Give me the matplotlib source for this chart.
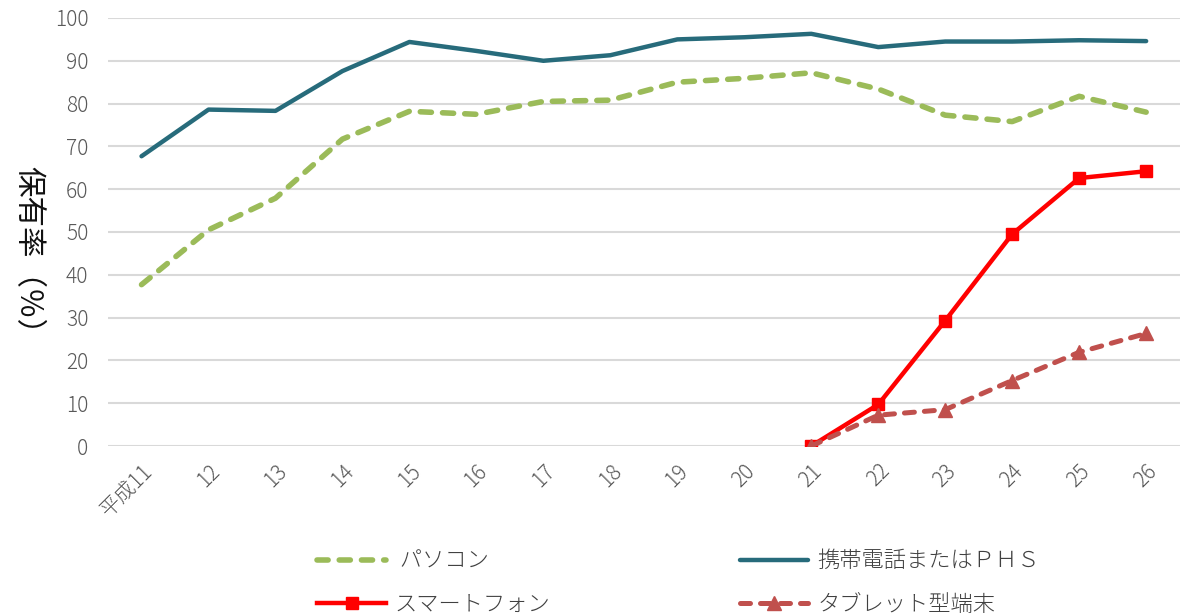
import matplotlib
matplotlib.use("Agg")
import matplotlib.pyplot as plt

plt.rcParams['font.family'] = ['Noto Sans CJK JP', 'DejaVu Sans']
plt.rcParams['font.weight'] = 'light'

years = ["平成11", "12", "13", "14", "15", "16", "17", "18",
         "19", "20", "21", "22", "23", "24", "25", "26"]
pc = [37.7, 50.5, 57.9, 71.7, 78.2, 77.5, 80.5, 80.8,
      85.0, 85.9, 87.2, 83.4, 77.3, 75.8, 81.7, 78.0]
mobile = [67.7, 78.6, 78.3, 87.6, 94.4, 92.3, 90.0, 91.3,
          95.0, 95.5, 96.3, 93.2, 94.5, 94.5, 94.8, 94.6]
smartphone = [None] * 10 + [0.0, 9.7, 29.3, 49.5, 62.6, 64.2]
tablet = [None] * 10 + [0.0, 7.2, 8.5, 15.3, 21.9, 26.3]

x = list(range(len(years)))
x_new = x[10:]

fig = plt.figure(figsize=(11.82, 6.14), dpi=100)
ax = fig.add_axes([0.0914, 0.2736, 0.9066, 0.6971])

l_pc, = ax.plot(x, pc, color='#9BBB59', lw=4, ls=(0, (2.0, 2.0)),
                dash_capstyle='round', solid_capstyle='round', label=' パソコン')
l_mob, = ax.plot(x, mobile, color='#276B7B', lw=3.2, solid_capstyle='round',
                 label='携帯電話またはＰＨＳ')
l_sp, = ax.plot(x_new, smartphone[10:], color='#FF0000', lw=3.2, marker='s',
                markersize=9, label='スマートフォン')
l_tb, = ax.plot(x_new, tablet[10:], color='#C0504D', lw=3.6, ls=(0, (2.0, 2.0)),
                dash_capstyle='round', marker='^', markersize=10,
                label='タブレット型端末')

ax.set_xlim(-0.5, 15.5)
ax.set_ylim(0, 100)
ax.set_yticks(range(0, 101, 10))
ax.set_xticks(x)
ax.set_xticklabels(years, rotation=45, ha='right', va='top',
                   rotation_mode='anchor')
ax.tick_params(axis='both', length=0, labelsize=15, labelcolor='#595959')
ax.tick_params(axis='x', pad=10)
ax.tick_params(axis='y', pad=14)
ax.grid(axis='y', color='#D9D9D9', lw=1.5)
ax.set_axisbelow(True)
for s in ax.spines.values():
    s.set_visible(False)

ax.set_ylabel('保有率（％）', rotation=270, fontsize=22, color='#111111',
              va='center')
ax.yaxis.set_label_coords(-0.075, 0.44)

leg = fig.legend(handles=[l_pc, l_sp, l_mob, l_tb], ncol=2, frameon=False,
                 loc='lower center', bbox_to_anchor=(0.574, -0.035),
                 fontsize=16, handlelength=3.1, handletextpad=0.4,
                 columnspacing=8.5, labelspacing=0.95)
for t in leg.get_texts():
    t.set_color('#404040')

fig.savefig('out.png', dpi=100)
